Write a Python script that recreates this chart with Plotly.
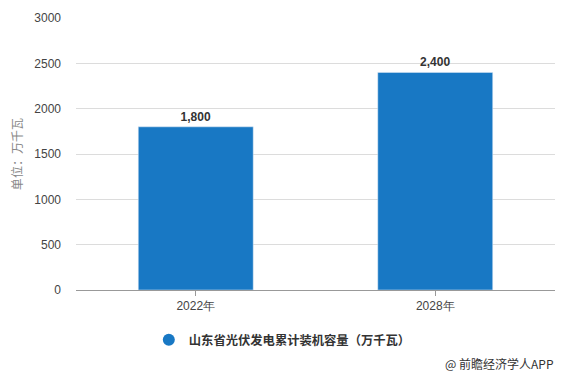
import plotly.graph_objects as go

categories = ["2022年", "2028年"]
values = [1800, 2400]
value_labels = ["1,800", "2,400"]
series_name = "山东省光伏发电累计装机容量（万千瓦）"
y_title = "单位：万千瓦"
y_ticks = [0, 500, 1000, 1500, 2000, 2500, 3000]
source_text = "@ 前瞻经济学人APP"

FONT = "Noto Sans CJK SC, Microsoft YaHei, sans-serif"
NUMFONT = "Liberation Sans, Arial, sans-serif"
BLUE = "#1878c4"

fig = go.Figure()
fig.add_trace(go.Bar(
    x=categories, y=values, width=0.48, marker_color=BLUE,
    text=value_labels, textposition="outside",
    textfont=dict(family=NUMFONT, size=12, color="#333333", weight="bold"),
    cliponaxis=False, showlegend=False,
))
fig.add_trace(go.Scatter(
    x=[None], y=[None], mode="markers", name=series_name,
    marker=dict(symbol="circle", size=11, color=BLUE),
))

fig.update_layout(
    width=571, height=379,
    margin=dict(l=76, r=16, t=18, b=89, autoexpand=False),
    paper_bgcolor="white", plot_bgcolor="white",
    font=dict(family=FONT, size=11, color="#444444"),
    showlegend=True,
    legend=dict(orientation="h", x=0.152, y=-0.13, xanchor="left", yanchor="top",
                font=dict(family=FONT, size=12.3, color="#333333", weight="bold"),
                itemsizing="constant"),
    xaxis=dict(
        automargin=False,
        showline=True, linecolor="#999999", linewidth=1,
        ticks="outside", ticklen=5, tickcolor="#999999",
        tickfont=dict(family=NUMFONT, size=12, color="#444444"),
        showgrid=False,
    ),
    yaxis=dict(
        automargin=False,
        range=[0, 3000], tickvals=y_ticks,
        showgrid=True, gridcolor="#dcdcdc", gridwidth=1,
        zeroline=False, showline=False,
        tickfont=dict(family=NUMFONT, size=12, color="#444444"),
        ticks="", ticklabelstandoff=14,
    ),
    annotations=[
        dict(
            text=source_text, xref="paper", yref="paper", x=1.003, y=-0.23,
            xanchor="right", yanchor="top", showarrow=False,
            font=dict(family=FONT, size=12, color="#333333"),
        ),
        dict(
            text=y_title, xref="paper", yref="paper", x=-0.125, y=0.5,
            xanchor="center", yanchor="middle", textangle=-90, showarrow=False,
            font=dict(family=FONT, size=12, color="#888888"),
        ),
    ],
)

fig.write_html("out.html", config={"displayModeBar": False},
               post_script="document.body.style.margin='0';")
